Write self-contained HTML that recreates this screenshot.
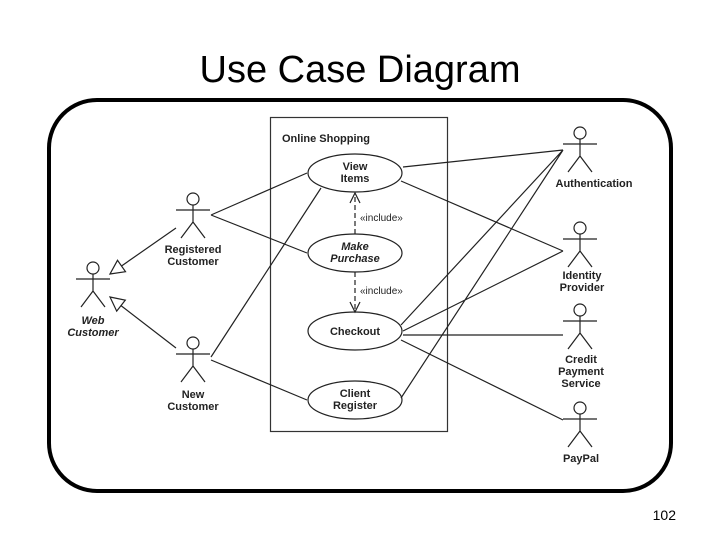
<!DOCTYPE html>
<html><head><meta charset="utf-8"><style>
body{margin:0;width:720px;height:540px;background:#fff;overflow:hidden}
</style></head><body>
<svg width="720" height="540" viewBox="0 0 720 540" xmlns="http://www.w3.org/2000/svg" font-family="Liberation Sans, sans-serif">
<text x="360" y="82" text-anchor="middle" font-size="38" fill="#000">Use Case Diagram</text>
<text x="676" y="520" text-anchor="end" font-size="14" fill="#000">102</text>
<rect x="49" y="100" width="622" height="391" rx="48" fill="none" stroke="#000" stroke-width="4"/>
<rect x="270.5" y="117.5" width="177" height="314" fill="none" stroke="#333" stroke-width="1.2"/>
<text x="282" y="142" font-size="11" font-weight="bold" fill="#222">Online Shopping</text>
<g fill="none" stroke="#222" stroke-width="1.2">
<ellipse cx="355" cy="173" rx="47" ry="19"/>
<ellipse cx="355" cy="253" rx="47" ry="19"/>
<ellipse cx="355" cy="331" rx="47" ry="19"/>
<ellipse cx="355" cy="400" rx="47" ry="19"/>
<path d="M211 215 L307 173 M211 215 L307 253 M211 357 L321 188 M211 360 L307 400"/>
<path d="M403 167 L563 150 M401 181 L563 251 M401 325 L563 150 M403 331 L563 251 M403 335 L563 335 M401 340 L563 420 M401 398 L563 150"/>
<path d="M176 228 L121.5 266 M176 348 L121 305.6"/>
<path d="M110 274 L125.5 271.7 L117.5 260.3 Z M110 297 L125.3 300.1 L116.7 311.1 Z" fill="#fff"/>
<path d="M355 234 L355 194 M355 272 L355 310" stroke-dasharray="5,3"/>
<path d="M350 203 L355 193 L360 203 M350 302 L355 312 L360 302"/>
</g>
<g font-size="11" font-weight="bold" fill="#222" text-anchor="middle">
<text x="355" y="170">View</text><text x="355" y="182">Items</text>
<text x="355" y="250" font-style="italic">Make</text><text x="355" y="262" font-style="italic">Purchase</text>
<text x="355" y="335">Checkout</text>
<text x="355" y="397">Client</text><text x="355" y="409">Register</text>
<text x="193" y="253">Registered</text><text x="193" y="265">Customer</text>
<text x="93" y="324" font-style="italic">Web</text><text x="93" y="336" font-style="italic">Customer</text>
<text x="193" y="398">New</text><text x="193" y="410">Customer</text>
<text x="594" y="187">Authentication</text>
<text x="582" y="279">Identity</text><text x="582" y="291">Provider</text>
<text x="581" y="363">Credit</text><text x="581" y="375">Payment</text><text x="581" y="387">Service</text>
<text x="581" y="462">PayPal</text>
</g>
<g font-size="10" fill="#222"><text x="360" y="221">«include»</text><text x="360" y="294">«include»</text></g>
<defs><g id="a" fill="none" stroke="#222" stroke-width="1.2"><circle cx="0" cy="0" r="6"/><path d="M0 6 L0 23 M-17 11 L17 11 M0 23 L-12 39 M0 23 L12 39"/></g></defs>
<use href="#a" x="193" y="199"/>
<use href="#a" x="93" y="268"/>
<use href="#a" x="193" y="343"/>
<use href="#a" x="580" y="133"/>
<use href="#a" x="580" y="228"/>
<use href="#a" x="580" y="310"/>
<use href="#a" x="580" y="408"/>
</svg>
</body></html>
